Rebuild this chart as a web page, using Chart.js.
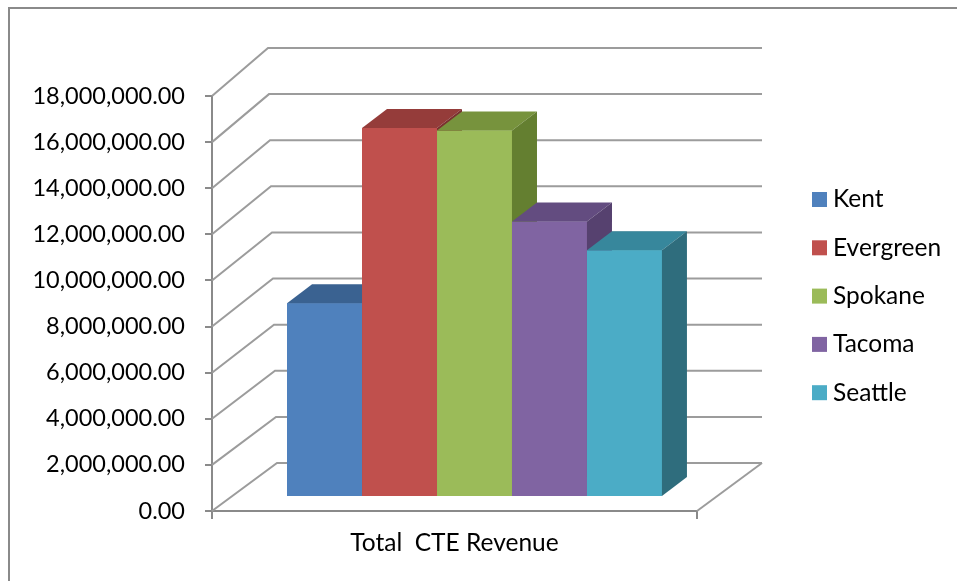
<!DOCTYPE html>
<html>
<head>
<meta charset="utf-8">
<script src="https://cdn.jsdelivr.net/npm/chart.js@4/dist/chart.umd.min.js"></script>
<style>
  html, body { margin: 0; padding: 0; background: #fff; }
  #wrap { width: 957px; height: 581px; }
</style>
</head>
<body>
<div id="wrap"><canvas id="chart" width="957" height="581"></canvas></div>
<script>
// data
const categories = ['Total  CTE Revenue'];
const schools = ['Kent', 'Evergreen', 'Spokane', 'Tacoma', 'Seattle'];
const revenue = [8400000, 16000000, 15900000, 11950000, 10700000];
const yTicks = [0, 2000000, 4000000, 6000000, 8000000, 10000000, 12000000, 14000000, 16000000, 18000000];

// colours: front, top and side faces
const frontColors = ['#4F81BD', '#C0504D', '#9BBB59', '#8064A2', '#4BACC6'];
const topColors = ['#3A6291', '#953C3A', '#77933D', '#634C80', '#37879C'];
const sideColors = ['#2E4F75', '#7A302F', '#647F30', '#56416F', '#2F6D7D'];

// fake 3d geometry (px)
const wallDepth = { dx: 65, dy: -48 };
const wallLean = 9;
const barShift = { dx: 20, dy: -14 };
const barDepth = { dx: 25, dy: -19 };

const FONT = 'Lato, "Open Sans", sans-serif';
const TICK_SIZE = 23.5;
const TEXT_SIZE = 24.5;
const lineGray = '#9c9c9c';
const axisGray = '#8a8a8a';

const fmt = v => Number(v).toLocaleString('en-US', { minimumFractionDigits: 2, maximumFractionDigits: 2 });

const threeD = {
    id: 'threeD',
    beforeDraw(chart) {
        const ctx = chart.ctx;
        ctx.save();
        ctx.fillStyle = '#fff';
        ctx.fillRect(0, 0, chart.width, chart.height);
        ctx.strokeStyle = '#8a8a8a';
        ctx.lineWidth = 2;
        ctx.strokeRect(9, 8, 1000, 1000);
        ctx.restore();
    },
    beforeDatasetsDraw(chart) {
        const { ctx, chartArea, scales } = chart;
        const y = scales.y;
        const top = yTicks[yTicks.length - 1];
        const backRight = chartArea.right + wallDepth.dx;
        ctx.save();
        ctx.strokeStyle = lineGray;
        ctx.lineWidth = 2;
        // left wall diagonals + back wall lines
        yTicks.forEach(v => {
            const py = y.getPixelForValue(v);
            const bx = chartArea.left + wallDepth.dx - wallLean * (v / top);
            ctx.beginPath();
            ctx.moveTo(chartArea.left, py);
            ctx.lineTo(bx, py + wallDepth.dy);
            ctx.lineTo(backRight, py + wallDepth.dy);
            ctx.stroke();
        });
        // floor right edge
        const p0 = y.getPixelForValue(0);
        ctx.beginPath();
        ctx.moveTo(chartArea.right, p0);
        ctx.lineTo(backRight, p0 + wallDepth.dy);
        ctx.stroke();
        ctx.restore();

        // bars sit a bit back on the floor
        ctx.save();
        ctx.translate(barShift.dx, barShift.dy);
    },
    afterDatasetsDraw(chart) {
        const ctx = chart.ctx;
        chart.data.datasets.forEach((ds, i) => {
            const bar = chart.getDatasetMeta(i).data[0];
            bar.draw(ctx);
            const { x, y, base, width } = bar.getProps(['x', 'y', 'base', 'width'], true);
            const l = x - width / 2;
            const r = x + width / 2;
            ctx.fillStyle = topColors[i];
            ctx.beginPath();
            ctx.moveTo(l, y);
            ctx.lineTo(r, y);
            ctx.lineTo(r + barDepth.dx, y + barDepth.dy);
            ctx.lineTo(l + barDepth.dx, y + barDepth.dy);
            ctx.closePath();
            ctx.fill();
            ctx.fillStyle = sideColors[i];
            ctx.beginPath();
            ctx.moveTo(r, y);
            ctx.lineTo(r + barDepth.dx, y + barDepth.dy);
            ctx.lineTo(r + barDepth.dx, base + barDepth.dy);
            ctx.lineTo(r, base);
            ctx.closePath();
            ctx.fill();
        });
        ctx.restore();
    },
    afterDraw(chart) {
        // legend
        const ctx = chart.ctx;
        ctx.save();
        ctx.font = TEXT_SIZE + 'px ' + FONT;
        ctx.textBaseline = 'middle';
        ctx.textAlign = 'left';
        schools.forEach((s, i) => {
            const cy = 199.5 + i * 48.3;
            ctx.fillStyle = frontColors[i];
            ctx.fillRect(812, cy - 7.5, 15, 15);
            ctx.fillStyle = '#000';
            ctx.fillText(s, 833, cy);
        });
        ctx.restore();
    }
};

new Chart(document.getElementById('chart'), {
    type: 'bar',
    data: {
        labels: categories,
        datasets: schools.map((s, i) => ({
            label: s,
            data: [revenue[i]],
            backgroundColor: frontColors[i],
            borderWidth: 0,
            categoryPercentage: 0.773,
            barPercentage: 1
        }))
    },
    options: {
        responsive: false,
        animation: false,
        layout: { padding: { left: 0, right: 260, top: 96, bottom: 0 } },
        plugins: {
            legend: { display: false },
            tooltip: { enabled: false }
        },
        scales: {
            x: {
                grid: { drawOnChartArea: false, tickLength: 8, color: axisGray, lineWidth: 2 },
                border: { display: true, color: axisGray, width: 2 },
                ticks: { padding: 9, color: '#000', font: { family: FONT, size: TEXT_SIZE } },
                afterFit: s => { s.height = 70; }
            },
            y: {
                min: 0,
                max: 18000000,
                afterBuildTicks: s => { s.ticks = yTicks.map(v => ({ value: v })); },
                grid: { drawOnChartArea: false, tickLength: 7, color: axisGray, lineWidth: 2 },
                border: { display: true, color: axisGray, width: 2 },
                ticks: { padding: 20, color: '#000', font: { family: FONT, size: TICK_SIZE }, callback: v => fmt(v) },
                afterFit: s => { s.width = 212; }
            }
        }
    },
    plugins: [threeD]
});
</script>
</body>
</html>
